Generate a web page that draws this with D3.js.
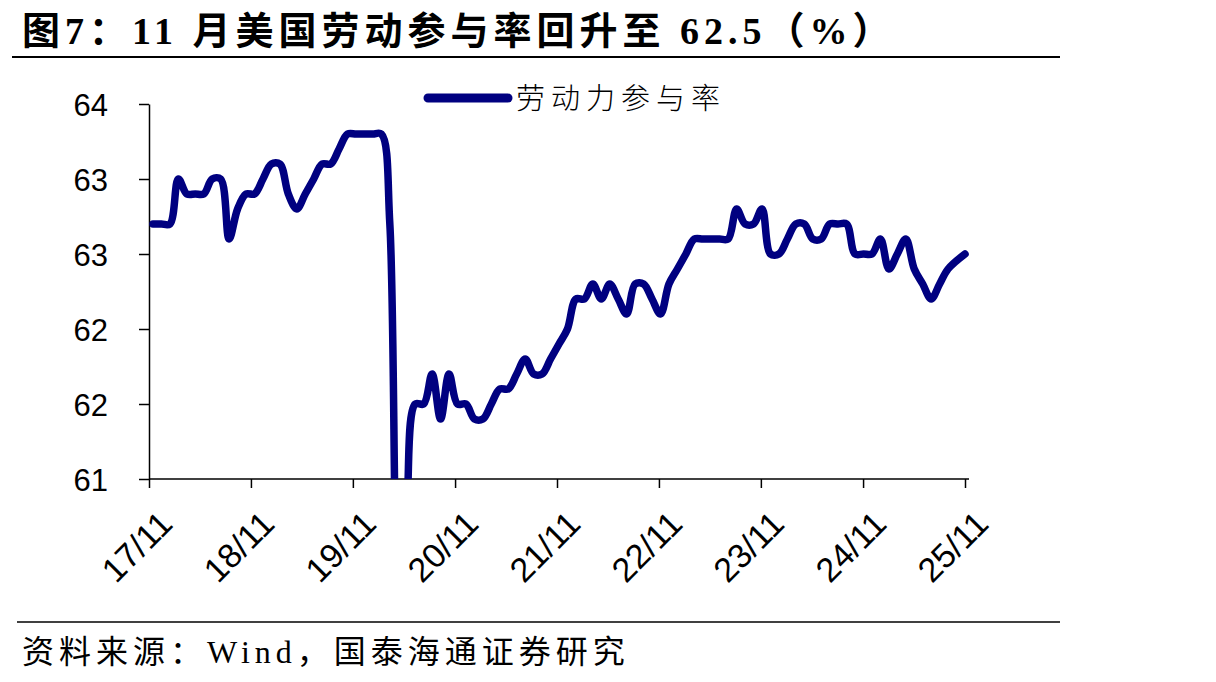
<!DOCTYPE html>
<html>
<head>
<meta charset="utf-8">
<script src="https://cdn.jsdelivr.net/npm/d3@7"></script>
<style>
  body { margin: 0; background: #fff; }
  svg { display: block; }
  .axis path, .axis line { stroke: #000; stroke-width: 1.5; }
  .axis text { font-family: "Liberation Sans", Arial, sans-serif; font-size: 31px; fill: #000; }
  .x-axis text { font-size: 34px; }
</style>
</head>
<body>
<script>
// data: US labour force participation rate, monthly, Nov 2017 - Nov 2025 (Oct 2025 not released)
var firstMonth = new Date(2017, 10, 1);
var lastMonth = new Date(2025, 10, 1);
var months = d3.timeMonth.range(firstMonth, d3.timeMonth.offset(lastMonth, 1));

var lfpr = [
  62.7, 62.7,
  62.7, 63.0, 62.9, 62.9, 62.9, 63.0, 63.0, 62.6, 62.8, 62.9, 62.9, 63.0,
  63.1, 63.1, 62.9, 62.8, 62.9, 63.0, 63.1, 63.1, 63.2, 63.3, 63.3, 63.3,
  63.3, 63.3, 62.7, 60.2, 60.8, 61.5, 61.5, 61.7, 61.4, 61.7, 61.5, 61.5,
  61.4, 61.4, 61.5, 61.6, 61.6, 61.7, 61.8, 61.7, 61.7, 61.8, 61.9, 62.0,
  62.2, 62.2, 62.3, 62.2, 62.3, 62.2, 62.1, 62.3, 62.3, 62.2, 62.1, 62.3,
  62.4, 62.5, 62.6, 62.6, 62.6, 62.6, 62.6, 62.8, 62.7, 62.7, 62.8, 62.5,
  62.5, 62.6, 62.7, 62.7, 62.6, 62.6, 62.7, 62.7, 62.7, 62.5, 62.5, 62.5,
  62.6, 62.4, 62.5, 62.6, 62.4, 62.3, 62.2, 62.3, 62.4, null, 62.5
];

var xTickYears = [2017, 2018, 2019, 2020, 2021, 2022, 2023, 2024, 2025];
var xTickLabels = ["17/11", "18/11", "19/11", "20/11", "21/11", "22/11", "23/11", "24/11", "25/11"];
var yTicks = [61, 61.5, 62, 62.5, 63, 63.5];
var yTickLabels = ["61", "62", "62", "63", "63", "64"];

var seriesName = "劳动力参与率";
var titleText = "图7：11 月美国劳动参与率回升至 62.5（%）";
var sourceText = "资料来源：Wind，国泰海通证券研究";

// canvas
var totalWidth = 1216;
var totalHeight = 682;
var plot = {left: 149, right: 965, top: 104, bottom: 479};

var svg = d3.select("body").append("svg")
    .attr("width", totalWidth)
    .attr("height", totalHeight);

svg.append("rect")
    .attr("width", totalWidth)
    .attr("height", totalHeight)
    .attr("fill", "#fff");

// scales
var x = d3.scaleTime()
    .domain([firstMonth, lastMonth])
    .range([plot.left, plot.right]);

// the line sits a little right of the first tick, like the source chart
var xi = d3.scaleLinear()
    .domain([0, months.length - 1])
    .range([plot.left + 4, plot.right]);

var y = d3.scaleLinear()
    .domain([61, 63.5])
    .range([plot.bottom, plot.top]);

// title and rules
svg.append("text")
    .attr("x", 22)
    .attr("y", 44)
    .attr("font-family", "'Liberation Serif', 'Noto Sans CJK SC', serif")
    .attr("font-weight", "bold")
    .attr("font-size", 38)
    .attr("letter-spacing", 5)
    .text(titleText);

svg.append("line")
    .attr("x1", 12).attr("x2", 1060)
    .attr("y1", 57).attr("y2", 57)
    .attr("stroke", "#000").attr("stroke-width", 2);

svg.append("line")
    .attr("x1", 17).attr("x2", 1060)
    .attr("y1", 622).attr("y2", 622)
    .attr("stroke", "#000").attr("stroke-width", 1.5);

svg.append("text")
    .attr("x", 22)
    .attr("y", 663)
    .attr("font-family", "'Liberation Serif', 'Noto Sans CJK SC', serif")
    .attr("font-size", 32)
    .attr("letter-spacing", 5)
    .text(sourceText);

// axes
var yAxis = d3.axisLeft(y)
    .tickValues(yTicks)
    .tickFormat(function(d, i) { return yTickLabels[i]; })
    .tickSize(10)
    .tickPadding(31)
    .tickSizeOuter(0);

svg.append("g")
    .attr("class", "axis")
    .attr("transform", "translate(" + plot.left + ",0)")
    .call(yAxis)
    .selectAll("text")
    .attr("dy", "0.36em");

var xAxis = d3.axisBottom(x)
    .tickValues(xTickYears.map(function(yr) { return new Date(yr, 10, 1); }))
    .tickFormat(function(d, i) { return xTickLabels[i]; })
    .tickSize(9)
    .tickSizeOuter(0);

var gx = svg.append("g")
    .attr("class", "axis x-axis")
    .attr("transform", "translate(0," + plot.bottom + ")")
    .call(xAxis);

gx.select(".domain").attr("d", "M" + plot.left + ",0H" + (plot.right + 4));

gx.selectAll(".tick text")
    .attr("text-anchor", "end")
    .attr("transform", "translate(8,30) rotate(-45)")
    .attr("x", 0)
    .attr("y", 0)
    .attr("dy", "0.7em");

// clip so the 2020 plunge stops at the bottom axis
svg.append("clipPath")
    .attr("id", "plot-clip")
    .append("rect")
    .attr("x", plot.left)
    .attr("y", 0)
    .attr("width", plot.right - plot.left + 20)
    .attr("height", plot.bottom);

var points = lfpr.map(function(v, i) { return {i: i, v: v}; })
    .filter(function(d) { return d.v !== null; });

var line = d3.line()
    .x(function(d) { return xi(d.i); })
    .y(function(d) { return y(d.v); })
    .curve(d3.curveCatmullRom.alpha(0.5));

svg.append("path")
    .datum(points)
    .attr("clip-path", "url(#plot-clip)")
    .attr("fill", "none")
    .attr("stroke", "#000080")
    .attr("stroke-width", 7.5)
    .attr("stroke-linejoin", "round")
    .attr("stroke-linecap", "round")
    .attr("d", line);

// legend
var legend = svg.append("g").attr("transform", "translate(428,98)");

legend.append("line")
    .attr("x1", 0).attr("x2", 80)
    .attr("stroke", "#000080")
    .attr("stroke-width", 9)
    .attr("stroke-linecap", "round");

legend.append("text")
    .attr("x", 88)
    .attr("y", 11)
    .attr("font-family", "'Noto Sans CJK SC', sans-serif")
    .attr("font-weight", 300)
    .attr("font-size", 29)
    .attr("letter-spacing", 6)
    .text(seriesName);
</script>
</body>
</html>
